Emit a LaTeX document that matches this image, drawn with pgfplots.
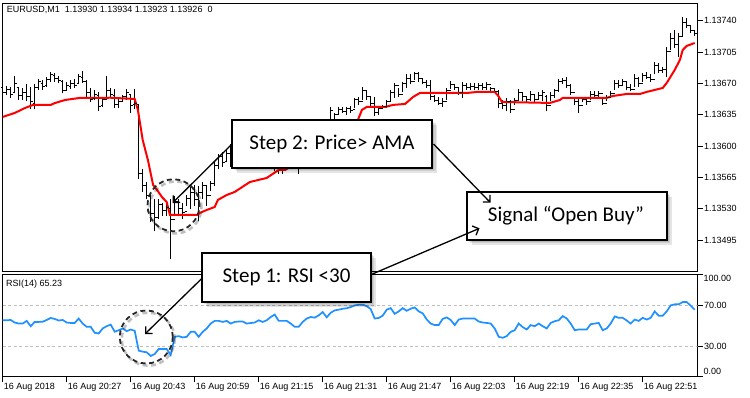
\documentclass[border=0pt]{standalone}
\usepackage{pgfplots}
\usepackage{pgfplotstable}
\pgfplotsset{compat=1.18}
\usetikzlibrary{arrows.meta}
\usepackage{fontspec}
\setmainfont{Liberation Sans}
\newfontfamily\calibri{Carlito}
\definecolor{rsiblue}{RGB}{30,144,255}
\definecolor{amared}{RGB}{255,0,0}
\definecolor{lvl}{RGB}{192,192,192}

\pgfdeclareplotmark{opentick}{\pgfpathmoveto{\pgfqpoint{-2pt}{0pt}}\pgfpathlineto{\pgfqpoint{0pt}{0pt}}\pgfusepathqstroke}
\pgfdeclareplotmark{closetick}{\pgfpathmoveto{\pgfqpoint{0pt}{0pt}}\pgfpathlineto{\pgfqpoint{2pt}{0pt}}\pgfusepathqstroke}

% EURUSD M1 bars; prices in points above 1.13000 (e.g. 740 = 1.13740); i = minutes after 20:11
\pgfplotstableread{
i H L O C
0 669 657 665 660
1 667 657 660 663
2 666 654 663 658
3 678 659 660 670
4 666 652 666 656
5 665 652 656 660
6 669 650 660 655
7 666 641 655 650
8 669 641 648 666
9 675 663 666 672
10 674 663 670 667
11 677 666 668 674
12 683 672 674 680
13 682 672 679 675
14 678 671 676 673
15 674 659 672 662
16 672 663 662 668
17 674 664 667 670
18 675 665 670 668
19 680 669 670 678
20 684 670 677 672
21 674 655 672 660
22 665 649 660 652
23 663 652 653 658
24 660 639 657 644
25 655 644 645 652
26 678 654 652 662
27 665 654 662 658
28 664 643 657 646
29 654 643 646 650
30 657 649 650 655
31 664 652 655 660
32 657 637 658 645
33 664 641 646 648
34 646 563 646 570
35 574 549 570 556
36 560 541 556 545
37 549 515 545 525
38 541 505 525 520
39 541 519 520 535
40 537 522 535 528
41 539 522 528 532
42 541 474 530 518
43 544 522 518 538
44 541 524 538 530
45 537 519 530 526
46 546 533 527 542
47 554 530 542 548
48 557 533 548 540
49 555 516 540 548
50 560 541 548 556
51 555 533 556 545
52 561 550 545 558
53 582 555 558 578
54 591 574 578 588
55 593 577 588 582
56 596 582 583 592
57 602 577 592 598
58 604 582 598 594
59 600 585 594 597
60 605 588 597 600
61 603 586 600 590
62 598 584 590 595
63 602 588 595 598
64 606 590 598 602
65 604 589 602 594
66 598 582 594 588
67 594 578 588 583
68 590 572 583 578
69 588 569 578 575
70 585 569 575 580
71 592 574 580 588
72 596 580 588 585
73 590 575 585 580
74 588 569 580 586
75 598 582 586 595
76 606 590 595 603
77 612 598 603 608
78 618 602 608 614
79 622 606 614 618
80 626 610 618 622
81 630 615 622 626
82 644 624 626 640
83 637 628 630 635
84 644 635 635 641
85 644 637 641 639
86 644 635 639 642
87 645 637 642 640
88 654 643 641 652
89 655 646 652 650
90 666 652 650 662
91 661 652 662 655
92 655 644 655 648
93 655 634 648 638
94 644 635 638 642
95 646 641 642 644
96 652 643 644 650
97 663 650 650 660
98 671 654 660 668
99 665 655 668 658
100 672 660 658 670
101 680 665 670 676
102 680 669 676 672
103 683 674 672 681
104 683 672 681 676
105 676 669 676 671
106 674 665 671 668
107 674 652 668 655
108 657 649 655 651
109 655 646 651 648
110 654 644 648 650
111 665 652 650 662
112 673 664 662 669
113 669 663 669 665
114 666 657 665 660
115 672 654 660 668
116 671 663 668 665
117 670 663 665 667
118 671 663 667 666
119 670 663 666 668
120 671 663 668 666
121 672 663 666 669
122 666 662 669 664
123 665 660 664 661
124 663 643 661 648
125 652 641 648 645
126 654 639 645 650
127 652 637 650 641
128 654 646 641 651
129 664 652 651 660
130 660 650 660 655
131 655 649 655 652
132 661 650 652 658
133 657 649 658 652
134 660 652 652 657
135 663 650 657 660
136 657 639 655 645
137 660 650 645 656
138 664 654 656 662
139 675 660 662 672
140 676 669 672 673
141 677 665 673 668
142 669 657 668 660
143 655 646 660 650
144 655 637 650 645
145 654 649 645 652
146 655 646 652 650
147 661 651 650 658
148 662 654 658 657
149 661 655 657 659
150 655 646 659 648
151 657 650 648 654
152 661 654 654 659
153 674 663 659 670
154 674 665 670 668
155 675 667 668 672
156 672 663 672 665
157 669 661 665 663
158 680 666 663 676
159 677 666 676 670
160 682 672 670 679
161 683 675 679 677
162 680 672 677 674
163 694 680 674 690
164 693 682 690 685
165 688 682 685 686
166 711 677 686 706
167 726 707 706 720
168 730 710 720 714
169 726 700 714 722
170 744 722 722 738
171 743 732 738 735
172 735 726 735 729
173 730 723 729 726
}\ohlc

% AMA (adaptive moving average), same units
\pgfplotstableread{
i p
0 632.6
3 637
5.6 642.6
7.6 646
12 646
13 648
15.6 651.5
19.3 653.8
27 654
33 652.6
33.8 640.4
35 606.9
36.3 584.6
37.6 556.7
38.6 551.1
39.8 543.3
41 537.7
41.8 523.2
48.6 523.2
49.3 525.5
51 528.8
53 532.1
53.8 540
56 545.5
58 548.9
61.8 560
66 564.5
69 573.4
70.6 573.4
75 585
80 600
85 618
88.8 629.2
89.8 640.4
91 643.7
95.6 643.7
97.6 646
100.6 647.1
102.6 654.9
104.3 659.3
116 659.3
118.6 660.5
123 660.5
123.9 656
124.8 649.3
136.8 648.2
139.3 651.5
140 653.8
151 653.8
152.6 656
156 658.2
159.3 658.2
161 660.5
165 664.9
166 670.5
168 685
169.3 696.2
170 707.3
171 711.8
173 715.1
}\ama

% RSI(14)
\pgfplotstableread{
i r
0 55.2
1 55.2
2 55.5
3 53
4 52
5 52
6 54.6
7 49.4
8 53.6
9 53.6
10 53.8
11 55.5
12 57.5
13 56.5
14 55
15 55.5
16 53
17 52.6
18 52.6
19 56.9
20 52
21 48.8
22 48.8
23 43
24 42.3
25 47.2
26 49.4
27 51
28 44
29 45.5
30 47.2
31 44.6
32 46.2
33 44.9
34 25.5
35 24.5
36 23.9
37 20.3
38 22.2
39 27.1
40 27.1
41 27.1
42 21.3
43 39
44 39.7
45 38.4
46 39
47 43.9
48 43.9
49 39
50 43.9
51 47.2
52 52
53 54.6
54 54.6
55 53.6
56 54.6
57 52
58 53.6
59 54
60 54
61 52
62 52.5
63 53
64 55.2
65 53.6
66 55.2
67 58.4
68 60.8
69 54.6
70 54.6
71 54.6
72 52
73 48.8
74 48.8
75 53.6
76 56.9
77 58.4
78 57.8
79 60
80 63.3
81 58.1
82 62.6
83 64.9
84 65.6
85 66.5
86 67
87 68.1
88 69.8
89 70.3
90 70.5
91 69
92 66.2
93 56.9
94 57.5
95 59.7
96 65.6
97 67.1
98 61.5
99 63.9
100 67.1
101 64.5
102 66.5
103 67.8
104 63.9
105 62
106 56
107 52
108 50.5
109 50.5
110 56.6
111 58
112 55.5
113 50.5
114 55.9
115 56.9
116 56.9
117 56.9
118 56.9
119 54
120 53
121 52.6
122 52
123 47.2
124 39
125 38.1
126 39.7
127 43.9
128 45.5
129 52
130 48.5
131 46.2
132 50.5
133 49.4
134 52
135 49.4
136 47.2
137 52.6
138 54.3
139 55.2
140 59.3
141 57
142 52
143 45.5
144 46.2
145 46.2
146 46.2
147 51.4
148 52
149 52.6
150 45.5
151 47.2
152 52
153 59
154 57.6
155 57.6
156 55
157 52
158 55.9
159 54.6
160 57.6
161 55.9
162 57.6
163 63.9
164 59.7
165 59.7
166 63.9
167 69.8
168 70.8
169 70.8
170 73
171 73
172 69.5
173 65.5
}\rsi

\begin{document}
\begin{tikzpicture}
\useasboundingbox (0pt,0pt) rectangle (750pt,-398pt);
\pgfplotsset{
  mtaxis/.style={
    scale only axis, width=694.8pt, xmin=0, xmax=173.7,
    axis line style={line width=0.9pt, black},
    tick style={line width=0.8pt, black},
    major tick length=5pt, tick align=outside,
    ytick pos=right,
    /pgf/number format/assume math mode=true,
    tick label style={font=\fontsize{9}{10}\selectfont},
    yticklabel style={anchor=west, inner sep=0pt, xshift=1.5pt},
  }
}
% ---- price panel ----
\begin{axis}[mtaxis, at={(2.7pt,-3pt)}, anchor=north west, height=268pt,
  ymin=460.7, ymax=759.7, xtick=\empty,
  ytick={495,530,565,600,635,670,705,740},
  yticklabels={1.13495,1.13530,1.13565,1.13600,1.13635,1.13670,1.13705,1.13740}]
\addplot[draw=none, forget plot, error bars/.cd, y dir=plus, y explicit, error mark=none,
  error bar style={draw=black, line width=0.9pt}]
  table[x=i, y=L, y error expr=\thisrow{H}-\thisrow{L}] {\ohlc};
\addplot[only marks, mark=opentick, mark options={draw=black, line width=0.9pt}] table[x=i, y=O] {\ohlc};
\addplot[only marks, mark=closetick, mark options={draw=black, line width=0.9pt}] table[x=i, y=C] {\ohlc};
\addplot[amared, line width=2pt, mark=none] table[x=i, y=p] {\ama};
\end{axis}
% ---- RSI panel ----
\begin{axis}[mtaxis, at={(2.7pt,-274.5pt)}, anchor=north west, height=102.2pt,
  ymin=0, ymax=100, ytick={0,30,70,100}, yticklabels={,30.00,70.00,},
  xtick={0,16,32,48,64,80,96,112,128,144,160}, xtick pos=bottom,
  xticklabels={16 Aug 2018,16 Aug 20:27,16 Aug 20:43,16 Aug 20:59,16 Aug 21:15,16 Aug 21:31,16 Aug 21:47,16 Aug 22:03,16 Aug 22:19,16 Aug 22:35,16 Aug 22:51},
  xticklabel style={anchor=north west, inner sep=0pt, xshift=1pt, yshift=-1.5pt}]
\addplot[lvl, line width=0.8pt, dash pattern=on 3pt off 2.5pt, forget plot] coordinates {(0,70) (173.7,70)};
\addplot[lvl, line width=0.8pt, dash pattern=on 3pt off 2.5pt, forget plot] coordinates {(0,30) (173.7,30)};
\addplot[rsiblue, line width=1.7pt, mark=none] table[x=i, y=r] {\rsi};
\end{axis}

% ---- texts and annotations (picture coordinates in px from top-left) ----
\begin{scope}[x=1pt, y=-1pt]
\node[anchor=base west, inner sep=0pt, font=\fontsize{9}{10}\selectfont] at (6.7,12.7) {EURUSD,M1\ \ 1.13930 1.13934 1.13923 1.13926\ \ 0};
\node[anchor=base west, inner sep=0pt, font=\fontsize{9}{10}\selectfont] at (6,286.7) {RSI(14) 65.23};
\node[anchor=base west, inner sep=0pt, font=\fontsize{9}{10}\selectfont] at (703.3,282) {100.00};
\node[anchor=base west, inner sep=0pt, font=\fontsize{9}{10}\selectfont] at (703.3,374) {0.00};

% circle shadows
\draw[black, opacity=0.25, line width=2.5pt, dash pattern=on 5pt off 3.5pt] (175.5,207.5) circle (26pt);
\draw[black, opacity=0.25, line width=2.5pt, dash pattern=on 5pt off 3.5pt] (148.3,339.2) circle (26.5pt);
% circles
\draw[black!85, line width=1.8pt, dash pattern=on 5pt off 3.5pt] (173.5,205.3) circle (26pt);
\draw[black!85, line width=1.8pt, dash pattern=on 5pt off 3.5pt] (146.3,337) circle (26.5pt);

% box shadows
\foreach \d in {2,3.5,5} {
  \fill[black, opacity=0.1] (232+\d,120+\d) rectangle (432+\d,168+\d);
  \fill[black, opacity=0.1] (466.7+\d,191.7+\d) rectangle (666.7+\d,240+\d);
  \fill[black, opacity=0.1] (202.3+\d,252.7+\d) rectangle (370.7+\d,302+\d);
}
% boxes
\draw[line width=2.2pt, fill=white] (232,120) rectangle (432,168);
\draw[line width=2.2pt, fill=white] (466.7,191.7) rectangle (666.7,240);
\draw[line width=2.2pt, fill=white] (202.3,252.7) rectangle (370.7,302);
\node[font=\calibri\fontsize{21}{25}\selectfont, inner sep=0pt] at (332,144) {Step 2: Price> AMA};
\node[font=\calibri\fontsize{21}{25}\selectfont, inner sep=0pt] at (566,216) {Signal “Open Buy”};
\node[font=\calibri\fontsize{21}{25}\selectfont, inner sep=0pt] at (286.5,277.3) {Step 1: RSI <30};

% arrows (drawn over the boxes so their tips show inside the signal box)
\begin{scope}[line width=1.3pt, -{Straight Barb[length=5pt,width=10pt]}]
\draw (232,144) -- (172.5,203);
\draw (433.5,144) -- (490.5,202.7);
\draw (371.5,274.4) -- (479.5,228.3);
\draw (202,278.3) -- (145,334);
\end{scope}
\end{scope}
\end{tikzpicture}
\end{document}
